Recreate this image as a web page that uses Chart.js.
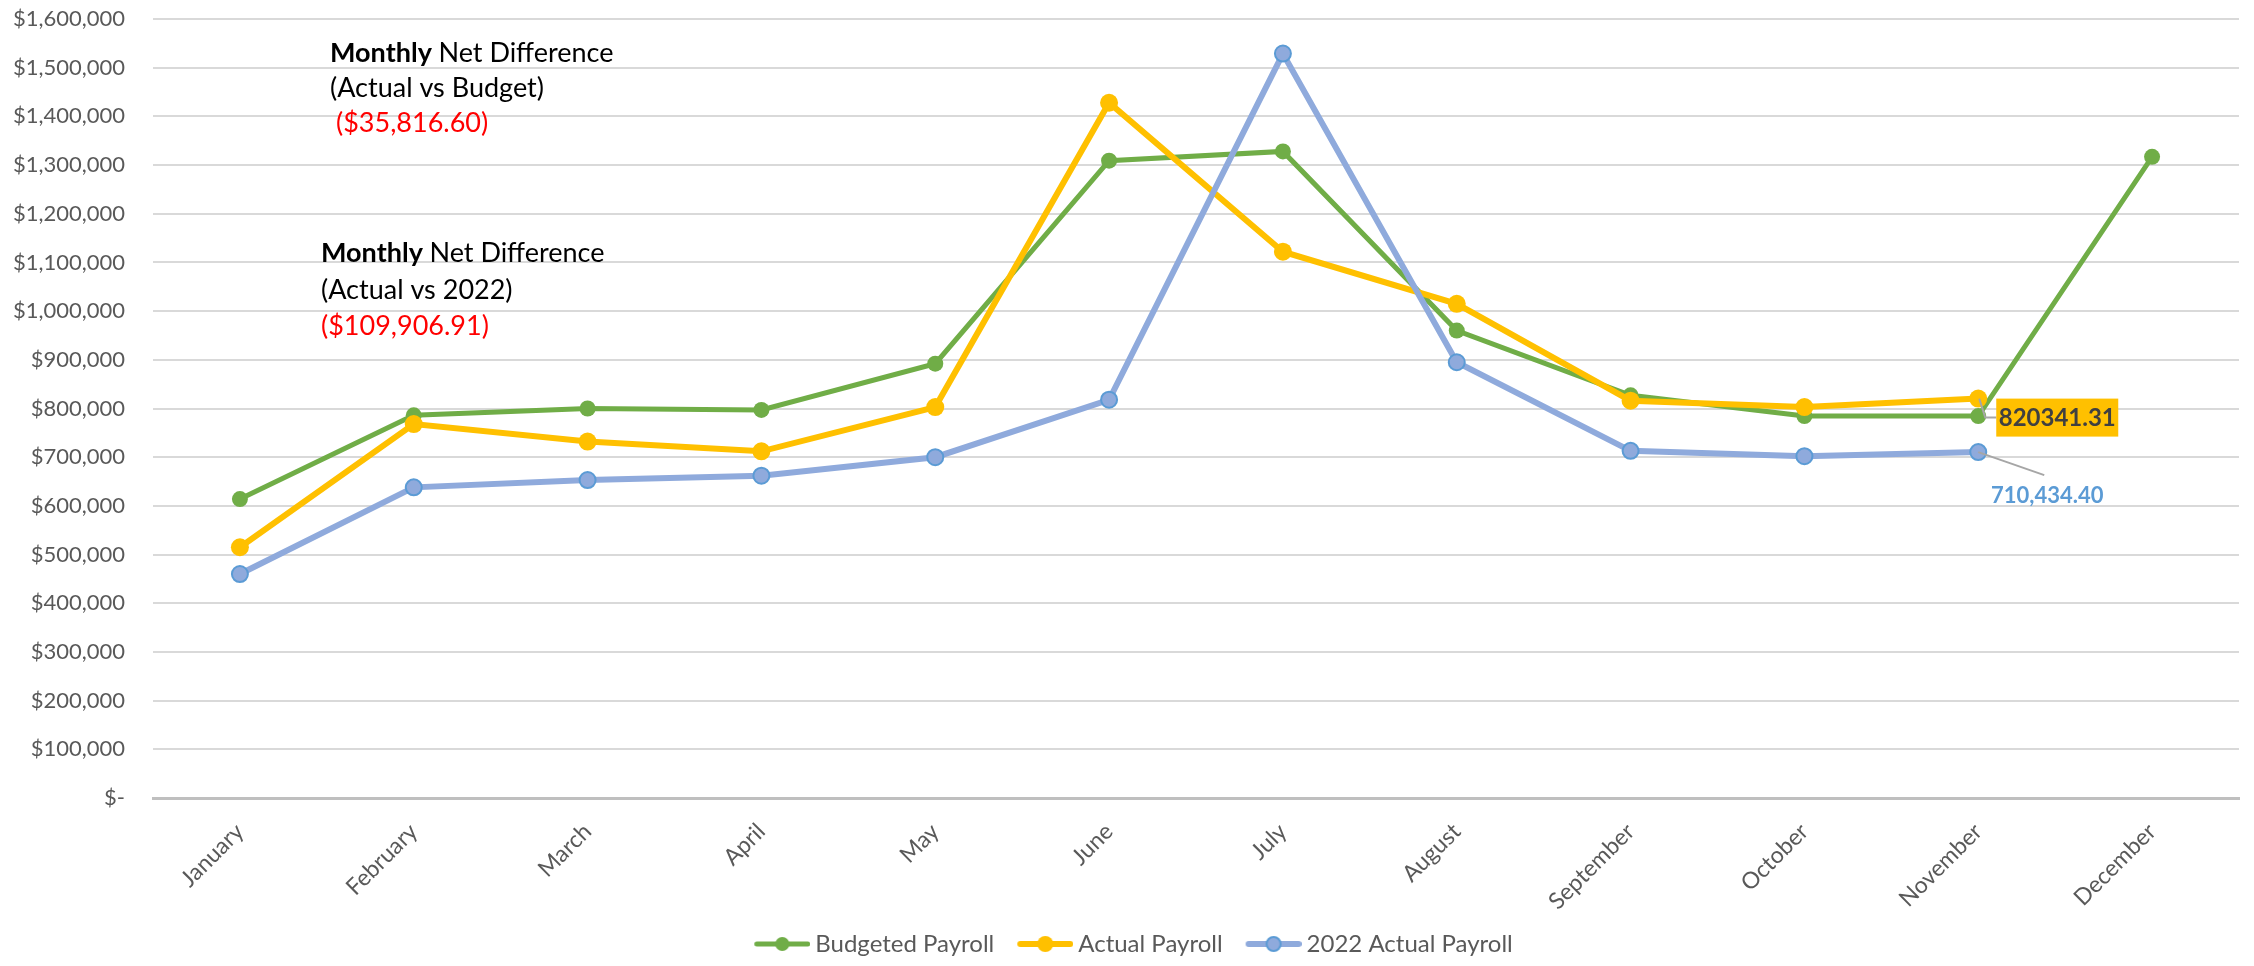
<!DOCTYPE html>
<html>
<head>
<meta charset="utf-8">
<title>Payroll by Month</title>
<script src="https://cdn.jsdelivr.net/npm/chart.js@4.4.1/dist/chart.umd.min.js"></script>
<style>
  html, body { margin: 0; padding: 0; background: #ffffff; }
  #wrap { width: 2254px; height: 966px; position: relative; }
  canvas { display: block; }
</style>
</head>
<body>
<div id="wrap"><canvas id="payroll" width="2254" height="966"></canvas></div>
<script>
// Months on the category axis
const months = ['January', 'February', 'March', 'April', 'May', 'June',
  'July', 'August', 'September', 'October', 'November', 'December'];

// Monthly payroll totals (USD)
const budgetedPayroll = [614000, 786000, 800000, 797000, 892000, 1309000,
  1328000, 960000, 827000, 784524.71, 784524.71, 1317000];
const actualPayroll = [515000, 768000, 732000, 712000, 803000, 1428000,
  1122000, 1015000, 816000, 803000, 820341.31, null];
const actual2022Payroll = [460000, 638000, 653000, 662000, 700000, 818000,
  1529000, 895000, 713000, 702000, 710434.40, null];

const seriesNames = ['Budgeted Payroll', 'Actual Payroll', '2022 Actual Payroll'];

// Value axis range
const yMin = 0;
const yMax = 1600000;
const yStep = 100000;

// Month whose figures are called out
const focusMonth = 10;

const FONT = 'Lato, "Open Sans", "DejaVu Sans", sans-serif';
const GREEN = '#70AD47', GOLD = '#FFC000', BLUE = '#8FAADC', BLUE_EDGE = '#5B9BD5';

function money(v) {
  return '$' + Math.abs(v).toLocaleString('en-US', {minimumFractionDigits: 2, maximumFractionDigits: 2});
}
function accounting(v) {
  return v < 0 ? '(' + money(v) + ')' : money(v);
}

// Legend swatch: line with a round marker in the middle, drawn in the
// right-hand part of the image so it sits close to its label
const SWATCH_W = 76, SWATCH_LINE = 56;
function swatch(color, lineW, r, edge) {
  const c = document.createElement('canvas');
  c.width = SWATCH_W; c.height = 24;
  const g = c.getContext('2d');
  const x0 = SWATCH_W - SWATCH_LINE;
  g.strokeStyle = color; g.lineWidth = lineW; g.lineCap = 'round';
  g.beginPath(); g.moveTo(x0 + lineW / 2, 12); g.lineTo(SWATCH_W - lineW / 2, 12); g.stroke();
  g.beginPath(); g.arc(x0 + SWATCH_LINE / 2, 12, r, 0, Math.PI * 2);
  g.fillStyle = color; g.fill();
  if (edge) { g.lineWidth = 2; g.strokeStyle = edge; g.stroke(); }
  return c;
}

// Text boxes with the monthly net differences and point callouts
const calloutPlugin = {
  id: 'callouts',
  afterDraw(chart) {
    const ctx = chart.ctx;
    const area = chart.chartArea;

    const diffBudget = budgetedPayroll[focusMonth] - actualPayroll[focusMonth];
    const diff2022 = actual2022Payroll[focusMonth] - actualPayroll[focusMonth];

    function block(x, y, line2, value, valueIndent, gap) {
      ctx.save();
      ctx.textBaseline = 'alphabetic';
      ctx.textAlign = 'left';
      ctx.fillStyle = '#000000';
      ctx.font = 'bold 27px ' + FONT;
      ctx.fillText('Monthly', x, y);
      const w = ctx.measureText('Monthly ').width;
      ctx.font = '27px ' + FONT;
      ctx.fillText('Net Difference', x + w, y);
      ctx.fillText(line2, x, y + gap);
      ctx.fillStyle = '#FF0000';
      ctx.fillText(accounting(value), x + valueIndent, y + gap * 2);
      ctx.restore();
    }
    block(area.left + 177, area.top + 43, '(Actual vs Budget)', diffBudget, 6, 35);
    block(area.left + 168, area.top + 243, '(Actual vs 2022)', diff2022, 0, 36.5);

    // Callout for the actual payroll point
    const pA = chart.getDatasetMeta(1).data[focusMonth];
    ctx.save();
    ctx.strokeStyle = '#A6A6A6';
    ctx.lineWidth = 2;
    ctx.beginPath();
    ctx.moveTo(pA.x + 1, pA.y);
    ctx.lineTo(pA.x + 7, pA.y + 19);
    ctx.lineTo(pA.x + 18, pA.y + 19);
    ctx.stroke();
    ctx.fillStyle = GOLD;
    ctx.fillRect(pA.x + 18, pA.y, 122, 38);
    ctx.fillStyle = '#404040';
    ctx.font = 'bold 24px ' + FONT;
    ctx.textAlign = 'center';
    ctx.textBaseline = 'middle';
    ctx.fillText(String(actualPayroll[focusMonth]), pA.x + 79, pA.y + 20);

    // Callout for the 2022 point
    const pB = chart.getDatasetMeta(2).data[focusMonth];
    ctx.beginPath();
    ctx.moveTo(pB.x, pB.y);
    ctx.lineTo(pB.x + 66, pB.y + 23);
    ctx.stroke();
    ctx.fillStyle = BLUE_EDGE;
    ctx.font = 'bold 22px ' + FONT;
    ctx.fillText(actual2022Payroll[focusMonth].toLocaleString('en-US', {minimumFractionDigits: 2}), pB.x + 69, pB.y + 44);
    ctx.restore();
  }
};

const legendSwatches = [
  swatch(GREEN, 5, 7),
  swatch(GOLD, 6, 8),
  swatch(BLUE, 6, 7, BLUE_EDGE)
];

function build() {
  const ctx = document.getElementById('payroll').getContext('2d');
  new Chart(ctx, {
    type: 'line',
    data: {
      labels: months,
      datasets: [
        {
          label: seriesNames[0],
          data: budgetedPayroll,
          borderColor: GREEN,
          backgroundColor: GREEN,
          borderWidth: 5,
          pointRadius: 8,
          pointBorderWidth: 0,
          pointBackgroundColor: GREEN,
          tension: 0,
          order: 3
        },
        {
          label: seriesNames[1],
          data: actualPayroll,
          borderColor: GOLD,
          backgroundColor: GOLD,
          borderWidth: 6,
          pointRadius: 9,
          pointBorderWidth: 0,
          pointBackgroundColor: GOLD,
          tension: 0,
          order: 2
        },
        {
          label: seriesNames[2],
          data: actual2022Payroll,
          borderColor: BLUE,
          backgroundColor: BLUE,
          borderWidth: 6,
          pointRadius: 8,
          pointBorderWidth: 2,
          pointBorderColor: BLUE_EDGE,
          pointBackgroundColor: BLUE,
          tension: 0,
          order: 1
        }
      ]
    },
    options: {
      responsive: false,
      animation: false,
      devicePixelRatio: 1,
      layout: { padding: 0 },
      scales: {
        x: {
          offset: true,
          grid: { display: false, drawTicks: false },
          border: { display: true, color: '#BFBFBF', width: 3 },
          ticks: {
            color: '#595959',
            font: { family: FONT, size: 23 },
            minRotation: 45,
            maxRotation: 45,
            autoSkip: false,
            padding: 20
          },
          afterFit(scale) {
            scale.height = 124;
            scale.paddingLeft = 0;
            scale.paddingRight = 15;
          }
        },
        y: {
          min: yMin,
          max: yMax,
          grid: {
            drawTicks: false,
            lineWidth: 2,
            color: c => (c.tick && c.tick.value === 0) ? 'rgba(0,0,0,0)' : '#D9D9D9'
          },
          border: { display: false },
          ticks: {
            stepSize: yStep,
            color: '#595959',
            font: { family: FONT, size: 22 },
            padding: 28,
            callback: v => v === 0 ? '$-' : '$' + Number(v).toLocaleString('en-US')
          },
          afterFit(scale) {
            scale.width = 153;
            scale.paddingTop = 19;
            scale.paddingBottom = 0;
          }
        }
      },
      plugins: {
        tooltip: { enabled: false },
        legend: {
          position: 'bottom',
          labels: {
            usePointStyle: true,
            pointStyleWidth: 62,
            boxHeight: 24,
            padding: 10,
            color: '#595959',
            font: { family: FONT, size: 24 },
            generateLabels(chart) {
              return chart.data.datasets.map((ds, i) => ({
                text: ds.label,
                pointStyle: legendSwatches[i],
                fillStyle: ds.borderColor,
                strokeStyle: ds.borderColor,
                lineWidth: 0,
                fontColor: '#595959',
                hidden: false,
                datasetIndex: i
              }));
            }
          }
        }
      }
    },
    plugins: [calloutPlugin]
  });
}

const fontLoads = document.fonts ? Promise.all([
  document.fonts.load('22px Lato'),
  document.fonts.load('bold 22px Lato')
]).catch(() => null) : Promise.resolve();
fontLoads.then(build, build);
</script>
</body>
</html>
